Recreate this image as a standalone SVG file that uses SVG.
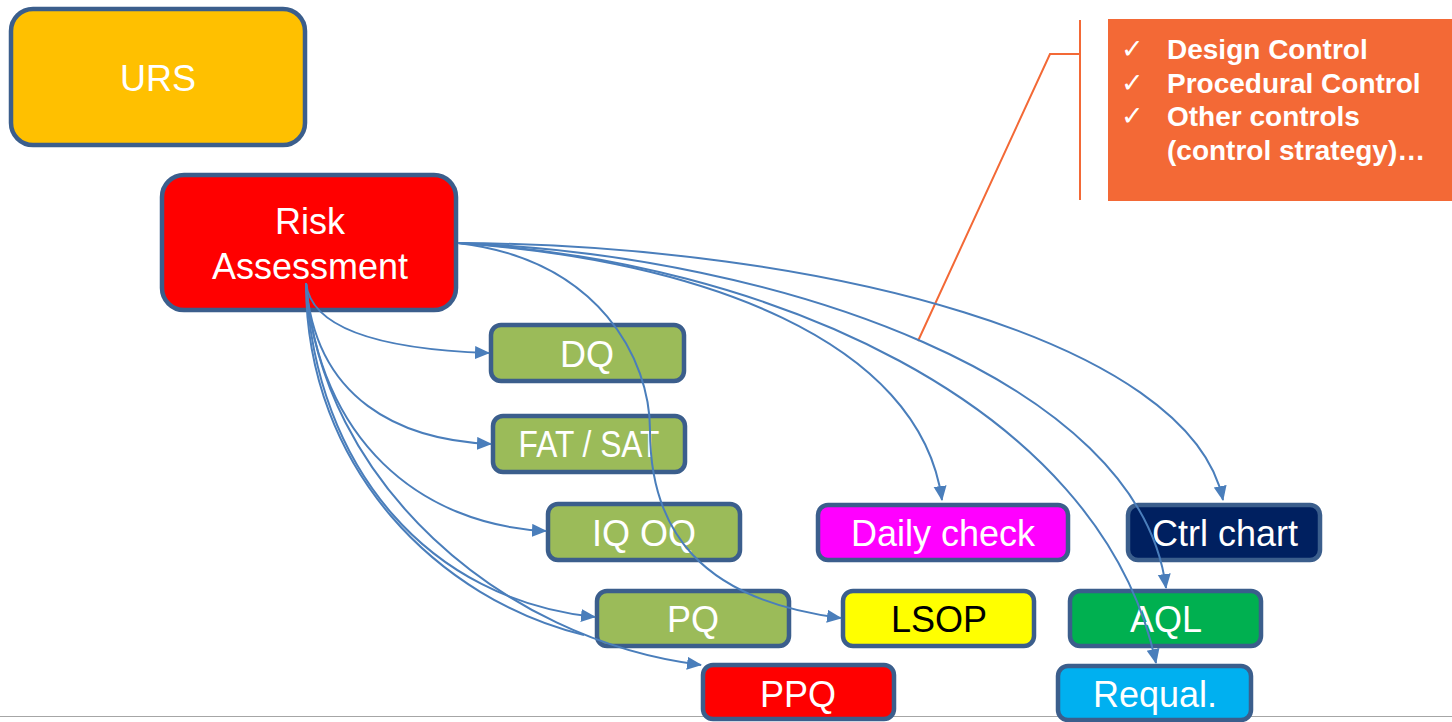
<svg xmlns="http://www.w3.org/2000/svg" width="1452" height="722" viewBox="0 0 1452 722">
<style>
.box{stroke:#3B5E8C;stroke-width:4.5}
.lbl{font-family:"Liberation Sans",Arial,sans-serif;font-size:36px;fill:#fff;text-anchor:middle}
.con{fill:none;stroke:#4A7EBB;stroke-width:2;marker-end:url(#arr)}
.con2{fill:none;stroke:#4A7EBB;stroke-width:2}
.note{font-family:"Liberation Sans",Arial,sans-serif;font-size:28px;font-weight:bold;fill:#fff}
.chk{font-family:"DejaVu Sans",sans-serif;font-size:27px;fill:#fff}
</style>
<defs>
<marker id="arr" markerUnits="userSpaceOnUse" markerWidth="16" markerHeight="14" refX="14" refY="6.5" orient="auto">
<path d="M0,0 L15,6.5 L0,13 z" fill="#4A7EBB"/>
</marker>
</defs>
<rect width="1452" height="722" fill="#fff"/>
<line x1="0" y1="716.5" x2="1452" y2="716.5" stroke="#A6A6A6" stroke-width="1.2"/>
<g id="callout">
<rect x="1108" y="19" width="344" height="182" fill="#F36936"/>
<line x1="1080" y1="20" x2="1080" y2="200" stroke="#F36936" stroke-width="2"/>
<polyline points="918,341 1050,54 1080,54" fill="none" stroke="#F36936" stroke-width="2"/>
<text class="chk" x="1121" y="58">✓</text>
<text class="chk" x="1121" y="92">✓</text>
<text class="chk" x="1121" y="125">✓</text>
<text class="note" x="1167" y="59">Design Control</text>
<text class="note" x="1167" y="93">Procedural Control</text>
<text class="note" x="1167" y="126">Other controls</text>
<text class="note" x="1167" y="160">(control strategy)…</text>
</g>
<g id="urs"><rect class="box" x="11" y="9" width="294" height="136" rx="22" fill="#FFC000"/><text class="lbl" x="158" y="91">URS</text></g>
<g id="risk"><rect class="box" x="162" y="175" width="294" height="135" rx="22" fill="#FF0000"/><text class="lbl" x="310" y="234">Risk</text><text class="lbl" x="310" y="279">Assessment</text></g>
<g id="dq"><rect class="box" x="491" y="325" width="193" height="56" rx="10" fill="#9BBB59"/><text class="lbl" x="587" y="367">DQ</text></g>
<g id="fatsat"><rect class="box" x="493" y="416" width="192" height="56" rx="10" fill="#9BBB59"/><text class="lbl" x="589" y="457" textLength="141" lengthAdjust="spacingAndGlyphs">FAT / SAT</text></g>
<g id="iqoq"><rect class="box" x="548" y="504" width="192" height="56" rx="10" fill="#9BBB59"/><text class="lbl" x="644" y="546">IQ OQ</text></g>
<g id="pq"><rect class="box" x="597" y="591" width="192" height="55" rx="10" fill="#9BBB59"/><text class="lbl" x="693" y="632">PQ</text></g>
<g id="ppq"><rect class="box" x="703" y="665" width="191" height="54" rx="10" fill="#FF0000"/><text class="lbl" x="798" y="707">PPQ</text></g>
<g id="daily"><rect class="box" x="818" y="505" width="250" height="55" rx="10" fill="#FF00FF"/><text class="lbl" x="943" y="546">Daily check</text></g>
<g id="ctrl"><rect class="box" x="1128" y="505" width="192" height="55" rx="10" fill="#002060"/><text class="lbl" x="1225" y="546">Ctrl chart</text></g>
<g id="lsop"><rect class="box" x="843" y="591" width="191" height="55" rx="10" fill="#FFFF00"/><text class="lbl" x="939" y="632" style="fill:#000">LSOP</text></g>
<g id="aql"><rect class="box" x="1070" y="591" width="191" height="55" rx="10" fill="#00B050"/><text class="lbl" x="1166" y="632">AQL</text></g>
<g id="requal"><rect class="box" x="1058" y="666" width="193" height="54" rx="10" fill="#00B0F0"/><text class="lbl" x="1155" y="707">Requal.</text></g>
<g id="connectors">
<path class="con" d="M306,283 C312,335 400,350 489,353"/>
<path class="con" d="M306,283 C315,400 400,440 491,444"/>
<path class="con" d="M306,283 C318,440 420,525 546,531"/>
<path class="con" d="M306,283 C315,470 430,600 595,617"/>
<path class="con" d="M306,283 C320,480 500,640 701,665"/>
<path class="con2" d="M306,283 C306,470 440,600 584,635"/>
<path class="con" d="M458,243 C600,260 650,360 650,430 C650,530 700,600 841,618"/>
<path class="con" d="M458,243 C700,260 920,340 942,500"/>
<path class="con" d="M458,243 C760,260 1100,400 1156,663"/>
<path class="con" d="M458,243 C780,255 1140,380 1166,588"/>
<path class="con" d="M458,243 C820,245 1190,340 1223,500"/>
</g>
</svg>
